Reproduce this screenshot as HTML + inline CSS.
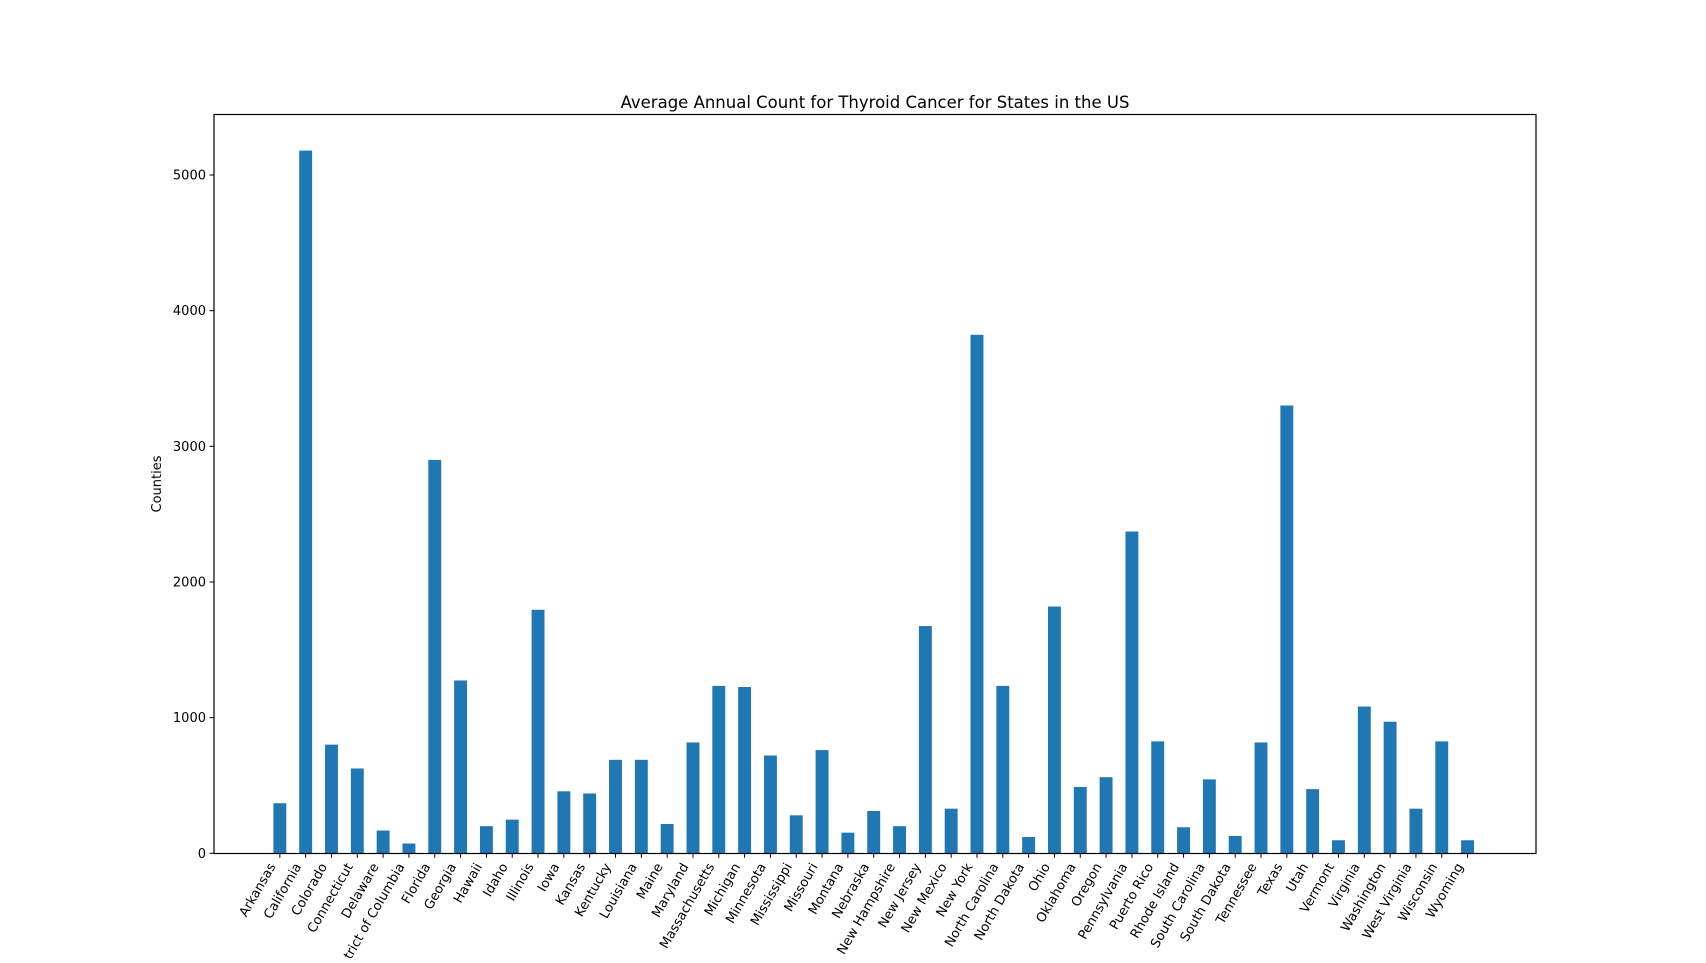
<!DOCTYPE html>
<html><head><meta charset="utf-8"><style>
html,body{margin:0;padding:0;background:#fff;}
svg text{font-family:"DejaVu Sans","Liberation Sans",sans-serif;fill:#000;}
</style></head><body>
<svg id="chart" width="1706" height="958" xmlns="http://www.w3.org/2000/svg">
<rect width="1706" height="958" fill="#fff"/>
<text x="875" y="108" font-size="16.5" text-anchor="middle">Average Annual Count for Thyroid Cancer for States in the US</text>
<text transform="translate(161,484) rotate(-90)" font-size="13" text-anchor="middle">Counties</text>
<g id="bars"></g><g id="xticks"></g><g id="yticks"></g>
<rect x="214" y="114.5" width="1322" height="739" fill="none" stroke="#000" stroke-width="1.2"/>
</svg>
<script>
const categories = ["Arkansas","California","Colorado","Connecticut","Delaware","District of Columbia","Florida","Georgia","Hawaii","Idaho","Illinois","Iowa","Kansas","Kentucky","Louisiana","Maine","Maryland","Massachusetts","Michigan","Minnesota","Mississippi","Missouri","Montana","Nebraska","New Hampshire","New Jersey","New Mexico","New York","North Carolina","North Dakota","Ohio","Oklahoma","Oregon","Pennsylvania","Puerto Rico","Rhode Island","South Carolina","South Dakota","Tennessee","Texas","Utah","Vermont","Virginia","Washington","West Virginia","Wisconsin","Wyoming"];
const values = [369,5180,801,625,168,72,2900,1274,200,248,1795,457,441,689,689,216,817,1234,1226,721,280,761,152,312,200,1675,329,3822,1234,120,1819,489,561,2372,825,192,545,128,817,3301,473,96,1082,970,329,825,96];
const yTicks = [0,1000,2000,3000,4000,5000];
</script>
<script>
const NS="http://www.w3.org/2000/svg";
const L=214,R=1536,T=114.5,B=853.3;
const n=categories.length;
const xmin=-2.55,xmax=(n-1)+2.65;
function xs(i){return L+(i-xmin)/(xmax-xmin)*(R-L);}
function ys(v){return B-v*0.13566;}
const step=xs(1)-xs(0);
const bars=document.getElementById('bars'),xt=document.getElementById('xticks'),yt=document.getElementById('yticks');
function mk(tag,attrs,parent){const e=document.createElementNS(NS,tag);for(const k in attrs)e.setAttribute(k,attrs[k]);parent.appendChild(e);return e;}
categories.forEach((c,i)=>{
  const cx=xs(i),w=step*0.5;
  const r=mk('rect',{x:cx-w/2,y:ys(values[i]),width:w,height:B-ys(values[i]),fill:'#1f77b4'},bars);
  
  
  mk('line',{x1:cx,x2:cx,y1:B,y2:B+4.5,stroke:'#000','stroke-width':1},xt);
  const t=mk('text',{x:0,y:0,'font-size':13,'text-anchor':'end',transform:`translate(${cx-4},${B+13}) rotate(-60)`},xt);
  t.textContent=c;
  
  
});
yTicks.forEach(v=>{
  const y=ys(v);
  mk('line',{x1:L-4.5,x2:L,y1:y,y2:y,stroke:'#000','stroke-width':1},yt);
  const t=mk('text',{x:L-8,y:y+4.5,'font-size':13,'text-anchor':'end'},yt);
  t.textContent=v;
  
  
});
</script>
</body></html>
